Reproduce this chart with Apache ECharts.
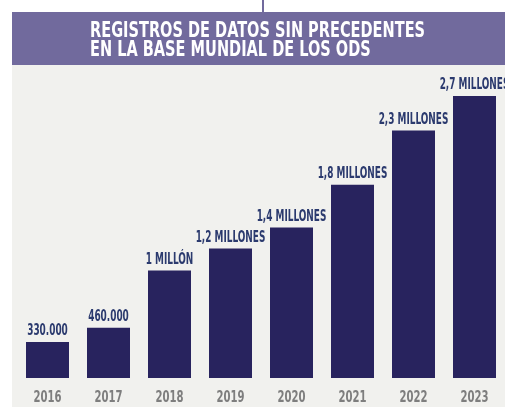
<!DOCTYPE html>
<html>
<head>
<meta charset="utf-8">
<script src="https://cdn.jsdelivr.net/npm/echarts@6/dist/echarts.min.js"></script>
<style>html,body{margin:0;padding:0;background:#fff;}#c{width:505px;height:407px;}</style>
</head>
<body>
<div id="c"></div>
<script>
const years = ['2016','2017','2018','2019','2020','2021','2022','2023'];
// bar heights (records)
const records = [345000, 480000, 1030000, 1240000, 1440000, 1850000, 2370000, 2700000];
const valueLabels = ['330.000','460.000','1 MILLÓN','1,2 MILLONES','1,4 MILLONES','1,8 MILLONES','2,3 MILLONES','2,7 MILLONES'];
const titleLines = ['REGISTROS DE DATOS SIN PRECEDENTES','EN LA BASE MUNDIAL DE LOS ODS'];

const FONT = '"Liberation Sans Narrow", "DejaVu Sans Condensed", sans-serif';
const SX = 0.62;
const chart = echarts.init(document.getElementById('c'), null, {renderer:'canvas'});
chart.setOption({
  animation: false,
  backgroundColor: '#ffffff',
  graphic: [
    {type:'rect', z:-10, shape:{x:12, y:65, width:493, height:342}, style:{fill:'#f1f1ee'}},
    {type:'rect', z:-10, shape:{x:12, y:12, width:493, height:53}, style:{fill:'#716a9d'}},
    {type:'rect', z:-10, shape:{x:262, y:0, width:2, height:12}, style:{fill:'#716a9d'}},
    {type:'text', x:90, y:22, scaleX:0.77, style:{x:0, y:0, text:titleLines.join('\n'), fill:'#ffffff', font:'bold 21px ' + FONT, lineHeight:19, verticalAlign:'top'}}
  ],
  grid: {left:17, right:0, top:96, bottom:29, containLabel:false},
  xAxis: {
    type:'category', data: years,
    axisLine:{show:false}, axisTick:{show:false}, axisLabel:{show:false}
  },
  yAxis: {type:'value', min:0, max:2700000, show:false, splitLine:{show:false}},
  series: [{
    type:'bar', data: records, barWidth:43,
    itemStyle:{color:'#28235e'}
  }, {
    type:'custom', data: records.map((v,i)=>[i,v]), clip:false, z:5,
    renderItem: (params, api) => {
      const i = api.value(0);
      const top = api.coord([i, api.value(1)]);
      const base = api.coord([i, 0]);
      return {type:'group', children:[
        {type:'text', x: top[0], y: top[1]-3, scaleX: SX,
          style:{x:0, y:0, text: valueLabels[i], fill:'#2b3a6e', font:'bold 16px ' + FONT, align:'center', verticalAlign:'bottom'}},
        {type:'text', x: base[0], y: base[1]+12, scaleX: 0.7,
          style:{x:0, y:0, text: years[i], fill:'#7e7e7e', font:'bold 16px ' + FONT, align:'center', verticalAlign:'top'}}
      ]};
    }
  }]
});
</script>
</body>
</html>
